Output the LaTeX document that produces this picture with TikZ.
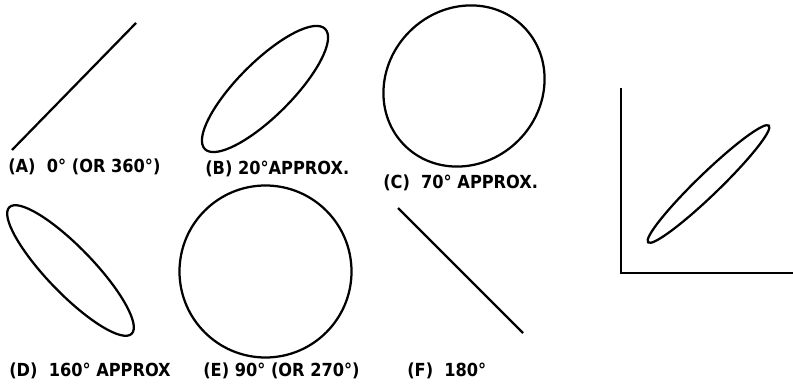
\documentclass[tikz,border=0pt]{standalone}
\usepackage{fontspec}
\setmainfont{DejaVu Sans Condensed}
\usetikzlibrary{positioning}

\tikzset{
  trace/.style={line width=1.6pt},
  caption/.style={anchor=west,inner sep=0pt,font=\fontsize{12.8}{15}\selectfont\bfseries}
}

\begin{document}
\begin{tikzpicture}[x=0.025cm,y=0.025cm]
  \useasboundingbox (0,0) rectangle (793,385);
  \coordinate (cB) at (265,296);
  \coordinate (cC) at (464,299);
  \coordinate (cD) at (70.5,114.5);
  \coordinate (cE) at (265.5,113.5);
  \coordinate (cG) at (708.5,201);
  \draw[trace] (12,235) -- (136,362);
  \node[caption] (capA) at (8,218.5) {(A)~~0° (OR 360°)};
  \draw[trace,rotate around={45:(cB)}] (cB) ellipse [x radius=85,y radius=27];
  \node[caption] (capB) at (205,216) {(B) 20°APPROX.};
  \draw[trace,rotate around={45:(cC)}] (cC) ellipse [x radius=84,y radius=77];
  \node[caption] (capC) at (383,202.5) {(C)~~70° APPROX.};
  \draw[trace,rotate around={-46:(cD)}] (cD) ellipse [x radius=88,y radius=23];
  \node[caption] (capD) at (9,14) {(D)~~160° APPROX};
  \draw[trace] (cE) circle [radius=86];
  \node[caption] (capE) at (203,14) {(E) 90° (OR 270°)};
  \draw[trace] (398,177) -- (523,52);
  \node[caption] (capF) at (407,14) {(F)~~180°};
  \draw[trace] (621,297) -- (621,112) -- (793,112);
  \draw[trace,rotate around={44:(cG)}] (cG) ellipse [x radius=84,y radius=11];
\end{tikzpicture}
\end{document}
